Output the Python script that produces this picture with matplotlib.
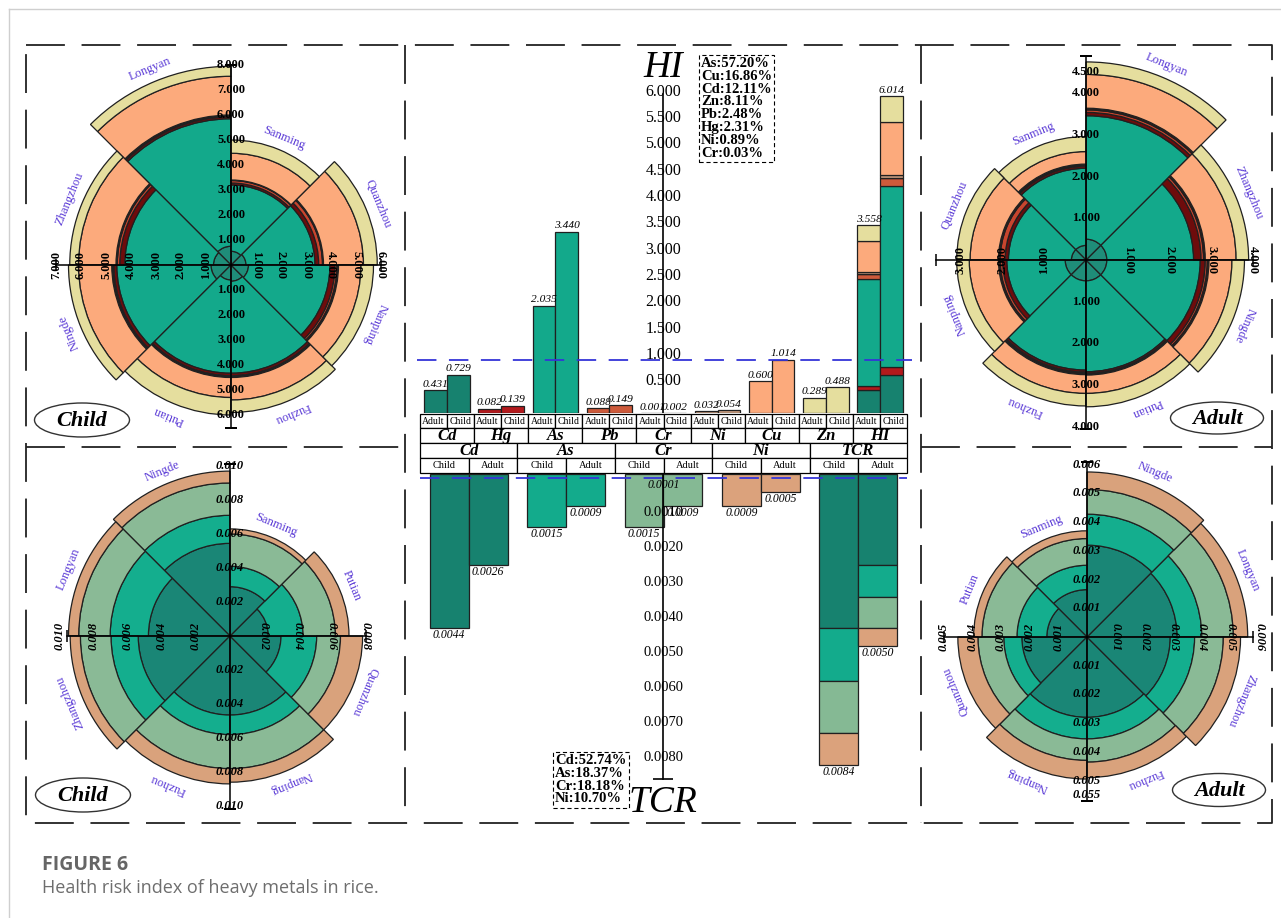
"""
plot.py
Health risk index (HI / TCR) of heavy metals in rice: rose charts + central bars.
"""

import numpy as np
import matplotlib
matplotlib.use("Agg")
import matplotlib.pyplot as plt
from matplotlib.patches import Rectangle, Ellipse

W, H = 1281, 918
plt.rcParams["font.family"] = ["Liberation Serif", "DejaVu Serif"]
plt.rcParams["lines.scale_dashes"] = False

PURPLE = "#5a3ad6"
BLUE = "#3535d8"
EDGE = "#202020"

# ---- central bars -------------------------------------------------------
hi_elements = ["Cd", "Hg", "As", "Pb", "Cr", "Ni", "Cu", "Zn"]
hi_adult = [0.431, 0.082, 2.035, 0.088, 0.001, 0.032, 0.600, 0.289]
hi_child = [0.729, 0.139, 3.440, 0.149, 0.002, 0.054, 1.014, 0.488]
hi_totals = [3.558, 6.014]
hi_colors = ["#17826f", "#b3191c", "#13a98b", "#cd5a3b", "#8fb89a",
             "#c89c80", "#fcaa7c", "#e5de9e"]
hi_ticks = [0.5, 1.0, 1.5, 2.0, 2.5, 3.0, 3.5, 4.0, 4.5, 5.0, 5.5, 6.0]
hi_share = ["As:57.20%", "Cu:16.86%", "Cd:12.11%", "Zn:8.11%",
            "Pb:2.48%", "Hg:2.31%", "Ni:0.89%", "Cr:0.03%"]

tcr_elements = ["Cd", "As", "Cr", "Ni"]
tcr_child = [0.0044, 0.0015, 0.0015, 0.0009]
tcr_adult = [0.0026, 0.0009, 0.0009, 0.0005]
tcr_totals = [0.0084, 0.0050]
tcr_colors = ["#17826f", "#13ab8c", "#85b994", "#dba27c"]
tcr_ticks = [0.001, 0.002, 0.003, 0.004, 0.005, 0.006, 0.007, 0.008]
tcr_share = ["Cd:52.74%", "As:18.37%", "Cr:18.18%", "Ni:10.70%"]

# ---- rose charts (sectors counter-clockwise from east) ------------------
rose_hi_colors = ["#1f8d79", "#13a98b", "#6e0c0c", "#c8452e", "#3a1a12",
                  "#fcaa7c", "#e5de9e"]  # Cd, As, Hg, Pb, Ni, Cu, Zn

child_hi_regions = ["Quanzhou", "Sanming", "Longyan", "Zhangzhou",
                    "Ningde", "Putian", "Fuzhou", "Nanping"]
child_hi_cd = [0.60, 0.55, 0.75, 0.70, 0.80, 0.60, 0.65, 0.70]
child_hi_as = [2.76, 2.65, 5.10, 3.55, 3.77, 3.73, 3.68, 3.26]
child_hi_hg = [0.15, 0.08, 0.08, 0.20, 0.12, 0.10, 0.10, 0.20]
child_hi_pb = [0.15, 0.10, 0.04, 0.10, 0.05, 0.04, 0.04, 0.08]
child_hi_ni = [0.04, 0.02, 0.03, 0.05, 0.03, 0.03, 0.03, 0.06]
child_hi_cu = [1.60, 1.07, 1.55, 1.50, 1.33, 0.80, 0.90, 0.90]
child_hi_zn = [0.55, 0.53, 0.40, 0.35, 0.40, 0.70, 0.50, 0.50]

adult_hi_regions = ["Zhangzhou", "Longyan", "Sanming", "Quanzhou",
                    "Nanping", "Fuzhou", "Putian", "Ningde"]
adult_hi_cd = [0.50, 0.50, 0.35, 0.35, 0.50, 0.50, 0.50, 0.50]
adult_hi_as = [2.08, 2.96, 1.85, 1.51, 1.40, 2.14, 2.18, 2.24]
adult_hi_hg = [0.18, 0.08, 0.05, 0.08, 0.10, 0.05, 0.04, 0.12]
adult_hi_pb = [0.06, 0.06, 0.03, 0.12, 0.06, 0.03, 0.02, 0.05]
adult_hi_ni = [0.04, 0.04, 0.02, 0.04, 0.04, 0.03, 0.02, 0.04]
adult_hi_cu = [0.74, 0.81, 0.30, 0.68, 0.70, 0.45, 0.44, 0.55]
adult_hi_zn = [0.30, 0.30, 0.36, 0.32, 0.30, 0.30, 0.32, 0.30]

rose_tcr_colors = ["#1a8676", "#14ae8e", "#8aba96", "#d9a27c"]  # Cd, As, Cr, Ni

child_tcr_regions = ["Putian", "Sanming", "Ningde", "Longyan",
                     "Zhangzhou", "Fuzhou", "Nanping", "Quanzhou"]
child_tcr_cd = [0.00225, 0.00290, 0.00545, 0.00480, 0.00540, 0.00465, 0.00465, 0.00300]
child_tcr_as = [0.00205, 0.00120, 0.00165, 0.00225, 0.00160, 0.00115, 0.00115, 0.00210]
child_tcr_cr = [0.00190, 0.00190, 0.00190, 0.00185, 0.00180, 0.00200, 0.00200, 0.00140]
child_tcr_ni = [0.00080, 0.00030, 0.00070, 0.00060, 0.00060, 0.00090, 0.00080, 0.00130]

adult_tcr_regions = ["Longyan", "Ningde", "Sanming", "Putian",
                     "Quanzhou", "Nanping", "Fuzhou", "Zhangzhou"]
adult_tcr_cd = [0.00314, 0.00320, 0.00165, 0.00140, 0.00227, 0.00280, 0.00280, 0.00290]
adult_tcr_as = [0.00086, 0.00108, 0.00085, 0.00104, 0.00063, 0.00075, 0.00075, 0.00085]
adult_tcr_cr = [0.00110, 0.00086, 0.00093, 0.00122, 0.00090, 0.00075, 0.00081, 0.00100]
adult_tcr_ni = [0.00050, 0.00061, 0.00027, 0.00029, 0.00070, 0.00065, 0.00054, 0.00060]

# spoke tick values: east, north, west, south
child_hi_spokes = [1, 2, 3, 4, 5, 6], [1, 2, 3, 4, 5, 6, 7, 8], [1, 2, 3, 4, 5, 6, 7], [1, 2, 3, 4, 5, 6]
adult_hi_spokes = [1, 2, 3, 4], [1, 2, 3, 4, 4.5], [1, 2, 3], [1, 2, 3, 4]
child_tcr_spokes = ([0.002, 0.004, 0.006, 0.008], [0.002, 0.004, 0.006, 0.008, 0.010],
                    [0.002, 0.004, 0.006, 0.008, 0.010], [0.002, 0.004, 0.006, 0.008, 0.010])
adult_tcr_spokes = ([0.001, 0.002, 0.003, 0.004, 0.005, 0.006],
                    [0.001, 0.002, 0.003, 0.004, 0.005, 0.006],
                    [0.001, 0.002, 0.003, 0.004, 0.005],
                    [0.001, 0.002, 0.003, 0.004, 0.005])


def box(x0, y0, x1, y1):
    return [x0 / W, 1 - y1 / H, (x1 - x0) / W, (y1 - y0) / H]


def rose(fig, cx, cy, scale, rmax, regions, layers, colors, spokes, lengths, fmt, italic):
    half = rmax * scale
    ax = fig.add_axes(box(cx - half, cy - half, cx + half, cy + half), projection="polar")
    ax.set_ylim(0, rmax)
    ax.axis("off")
    theta = (np.arange(8) + 0.5) * np.pi / 4
    base = np.zeros(8)
    for vals, col in zip(layers, colors):
        ax.bar(theta, vals, width=np.pi / 4, bottom=base, color=col,
               edgecolor=EDGE, linewidth=0.9, zorder=2)
        base = base + np.asarray(vals)
    for t, r, name in zip(theta, base, regions):
        ax.text(t, r + 13 / scale, name, rotation=np.degrees(t) - 90,
                rotation_mode="anchor", ha="center", va="center",
                color=PURPLE, fontsize=9, zorder=5)
    for ang, ticks, length in zip([0, 90, 180, 270], spokes, lengths):
        a = np.radians(ang)
        ax.plot([a, a], [0, length], color="black", lw=1.1, zorder=3)
        ax.plot([a], [length], marker="_" if ang in (90, 270) else "|",
                ms=8, mew=1.1, color="black", zorder=3)
        rot = {0: -90, 90: 0, 180: 90, 270: 0}[ang]
        for v in ticks:
            ax.text(a, v, fmt % v, rotation=rot, ha="center", va="center",
                    fontsize=9, fontweight="bold",
                    style="italic" if italic else "normal", zorder=4)
    return ax


def main():
    fig = plt.figure(figsize=(W / 100, H / 100), dpi=100)

    # overlay in pixel coordinates: frame, table, tags, caption
    ov = fig.add_axes([0, 0, 1, 1])
    ov.set_xlim(0, W)
    ov.set_ylim(H, 0)
    ov.axis("off")

    ov.plot([9, W], [9, 9], color="#cfcfcf", lw=1)
    ov.plot([9, 9], [9, H], color="#cfcfcf", lw=1)

    dash = dict(color="#222222", lw=1.3, ls=(0, (28, 12)))
    ov.plot([26, 1272, 1272, 26, 26], [45, 45, 823, 823, 45], **dash)
    ov.plot([405, 405], [45, 823], **dash)
    ov.plot([921, 921], [45, 823], **dash)
    ov.plot([26, 405], [447, 447], **dash)
    ov.plot([921, 1272], [447, 447], **dash)

    for (x, y, w, h, s) in [(82, 420, 95, 34, "Child"), (1217, 418, 93, 32, "Adult"),
                            (83, 795, 95, 34, "Child"), (1219, 790, 93, 33, "Adult")]:
        ov.add_patch(Ellipse((x, y), w, h, fc="white", ec="#333333", lw=1))
        ov.text(x, y + 1, s, ha="center", va="center", fontsize=16,
                style="italic", fontweight="bold")

    # table between the two bar panels
    tx0, tx1 = 420, 907
    rows = [414, 428, 443, 458, 473]
    row_cells = [
        (["Adult", "Child"] * 9, 7, "normal", "normal"),
        (hi_elements + ["HI"], 12, "italic", "bold"),
        (tcr_elements + ["TCR"], 12, "italic", "bold"),
        (["Child", "Adult"] * 5, 7.5, "normal", "normal"),
    ]
    for i, (labels, fs, st, fw) in enumerate(row_cells):
        cw = (tx1 - tx0) / len(labels)
        for j, lab in enumerate(labels):
            ov.add_patch(Rectangle((tx0 + j * cw, rows[i]), cw, rows[i + 1] - rows[i],
                                   fc="white", ec="black", lw=0.9))
            ov.text(tx0 + (j + 0.5) * cw, (rows[i] + rows[i + 1]) / 2 + 0.5, lab,
                    ha="center", va="center", fontsize=fs, style=st, fontweight=fw)

    ov.text(663, 68, "HI", ha="center", va="center", fontsize=27, style="italic")
    ov.text(663, 803, "TCR", ha="center", va="center", fontsize=27, style="italic")
    box_style = dict(boxstyle="square,pad=0.15", fc="white", ec="black", lw=0.8, ls=(0, (3, 2)))
    ov.text(701, 57, "\n".join(hi_share), ha="left", va="top", fontsize=10.5,
            fontweight="bold", linespacing=0.98, bbox=box_style)
    ov.text(555, 754, "\n".join(tcr_share), ha="left", va="top", fontsize=10.5,
            fontweight="bold", linespacing=0.98, bbox=box_style)

    ov.text(42, 870, "FIGURE 6", fontfamily=["Open Sans", "DejaVu Sans"],
            fontweight="bold", fontsize=14, color="#666666", va="baseline")
    ov.text(42, 893, "Health risk index of heavy metals in rice.",
            fontfamily=["Open Sans", "DejaVu Sans"], fontsize=13, color="#6e6e6e",
            va="baseline")

    # HI bars (upper centre)
    ax_hi = fig.add_axes(box(tx0, 50, tx1, 413))
    ax_hi.set_xlim(-0.5, 8.5)
    ax_hi.set_ylim(0, 363 / 52.7)
    ax_hi.axis("off")
    x = np.arange(len(hi_elements))
    ax_hi.bar(x - 0.21, hi_adult, 0.42, color=hi_colors, edgecolor=EDGE, lw=0.9)
    ax_hi.bar(x + 0.21, hi_child, 0.42, color=hi_colors, edgecolor=EDGE, lw=0.9)
    for xi, a, c in zip(x, hi_adult, hi_child):
        for xx, v in [(xi - 0.21, a), (xi + 0.21, c)]:
            ax_hi.annotate(f"{v:.3f}", (xx, v), xytext=(0, 1), textcoords="offset points",
                           ha="center", va="bottom", fontsize=8.2, style="italic")
    for k, (xx, vals) in enumerate([(8 - 0.21, hi_adult), (8 + 0.21, hi_child)]):
        base = 0
        for v, col in zip(vals, hi_colors):
            ax_hi.bar(xx, v, 0.42, bottom=base, color=col, edgecolor=EDGE, lw=0.9)
            base += v
        ax_hi.annotate(f"{hi_totals[k]:.3f}", (xx, base), xytext=(0, 1),
                       textcoords="offset points", ha="center", va="bottom",
                       fontsize=8.2, style="italic")
    ax_hi.plot([-0.55, 8.6], [1.0, 1.0], color=BLUE, lw=1.3, ls=(0, (14, 9)), clip_on=False)
    ax_hi.plot([4, 4], [0, 6.05], color="black", lw=1.2)
    for v in hi_ticks:
        ax_hi.text(4, v + 0.1, f"{v:.3f}", ha="center", va="center", fontsize=11.5)

    # TCR bars (lower centre, downward)
    ax_tcr = fig.add_axes(box(tx0, 474, tx1, 830))
    ax_tcr.set_xlim(-0.5, 4.5)
    ax_tcr.set_ylim((830 - 474) / 35 * 0.001, 0)
    ax_tcr.axis("off")
    xt = np.arange(len(tcr_elements))
    ax_tcr.bar(xt - 0.2, tcr_child, 0.4, color=tcr_colors, edgecolor=EDGE, lw=0.9)
    ax_tcr.bar(xt + 0.2, tcr_adult, 0.4, color=tcr_colors, edgecolor=EDGE, lw=0.9)
    for xi, c, a in zip(xt, tcr_child, tcr_adult):
        for xx, v in [(xi - 0.2, c), (xi + 0.2, a)]:
            ax_tcr.annotate(f"{v:.4f}", (xx, v), xytext=(0, -1), textcoords="offset points",
                            ha="center", va="top", fontsize=8.5, style="italic")
    for k, (xx, vals) in enumerate([(4 - 0.2, tcr_child), (4 + 0.2, tcr_adult)]):
        base = 0
        for v, col in zip(vals, tcr_colors):
            ax_tcr.bar(xx, v, 0.4, bottom=base, color=col, edgecolor=EDGE, lw=0.9)
            base += v
        ax_tcr.annotate(f"{tcr_totals[k]:.4f}", (xx, base), xytext=(0, -1),
                        textcoords="offset points", ha="center", va="top",
                        fontsize=8.5, style="italic")
    ax_tcr.plot([-0.5, 4.5], [0.0001, 0.0001], color=BLUE, lw=1.3, ls=(0, (14, 9)), clip_on=False)
    ax_tcr.annotate("0.0001", (2, 0.0001), xytext=(0, -1), textcoords="offset points",
                    ha="center", va="top", fontsize=8.5, style="italic")
    ax_tcr.plot([2, 2], [0, 0.0087], color="black", lw=1.2)
    ax_tcr.plot([2], [0.0087], marker="_", ms=14, mew=1.2, color="black")
    for v in tcr_ticks:
        ax_tcr.text(2, v + 0.00011, f"{v:.4f}", ha="center", va="center", fontsize=10.5)

    # rose charts
    rose(fig, 231, 265, 25, 8.6, child_hi_regions,
         [child_hi_cd, child_hi_as, child_hi_hg, child_hi_pb, child_hi_ni, child_hi_cu, child_hi_zn],
         rose_hi_colors, child_hi_spokes, [6.0, 8.0, 7.0, 6.5], "%.3f", False)
    rose(fig, 1086, 260, 41.7, 5.2, adult_hi_regions,
         [adult_hi_cd, adult_hi_as, adult_hi_hg, adult_hi_pb, adult_hi_ni, adult_hi_cu, adult_hi_zn],
         rose_hi_colors, adult_hi_spokes, [4.0, 4.9, 3.6, 4.05], "%.3f", False)
    rose(fig, 230, 636, 17000, 0.0106, child_tcr_regions,
         [child_tcr_cd, child_tcr_as, child_tcr_cr, child_tcr_ni],
         rose_tcr_colors, child_tcr_spokes, [0.0080, 0.0101, 0.0096, 0.0102], "%.3f", True)
    ax_at = rose(fig, 1087, 637, 28700, 0.0064, adult_tcr_regions,
                 [adult_tcr_cd, adult_tcr_as, adult_tcr_cr, adult_tcr_ni],
                 rose_tcr_colors, adult_tcr_spokes, [0.0058, 0.0061, 0.0050, 0.0057], "%.3f", True)
    ax_at.text(np.radians(270), 0.0055, "0.055", ha="center", va="center",
               fontsize=9, fontweight="bold", style="italic")

    fig.savefig("out.png", dpi=100)


if __name__ == "__main__":
    main()
